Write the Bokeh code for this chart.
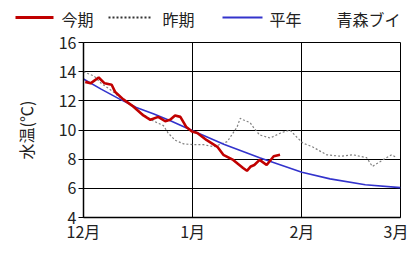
from bokeh.plotting import figure
from bokeh.models import FixedTicker, Range1d
from bokeh.core.properties import value
from bokeh.embed import file_html
from bokeh.resources import INLINE

# x = days since 1 Dec
month_ticks = [0, 31, 62, 90]
month_labels = ["12月", "1月", "2月", "3月"]
y_ticks = [4, 6, 8, 10, 12, 14, 16]

cur_days = [0.5, 2, 4.3, 6, 8, 9, 11.3, 14.2, 17, 19, 21.2, 23.2, 24.6, 26, 27.5, 29.2, 30.8, 32.3,
            35, 38, 39.7, 42.5, 45.3, 46.4, 47.5, 48.5, 50, 52, 54, 55.8]
cur_temp = [13.3, 13.2, 13.6, 13.2, 13.1, 12.6, 12.1, 11.6, 11.0, 10.7, 10.9, 10.6, 10.7, 11.0, 10.9, 10.2, 9.9, 9.8,
            9.3, 8.85, 8.3, 7.95, 7.4, 7.2, 7.5, 7.6, 7.95, 7.6, 8.2, 8.3]

prev_days = [0, 3, 5, 8, 10, 13, 15, 18, 20, 22.7, 24, 26, 28.4, 31, 34, 37, 40.8, 43.6, 44.5, 45.3, 47.3,
             48.5, 50, 53, 56, 58.6, 60.6, 62.3, 65, 69, 73, 76.5, 80.4, 82, 85, 87.5, 89]
prev_temp = [14.0, 13.7, 13.2, 12.7, 12.3, 11.8, 11.4, 10.9, 10.6, 10.3, 9.8, 9.3, 9.05, 9.0, 9.0, 8.85, 9.2, 10.2, 10.8, 10.7, 10.5,
             10.1, 9.66, 9.45, 9.8, 10.0, 9.5, 9.1, 8.85, 8.3, 8.2, 8.3, 8.1, 7.5, 7.95, 8.3, 8.1]

norm_days = [0, 5, 10, 15, 20, 25, 31, 40, 50, 62, 70, 80, 90]
norm_temp = [13.5, 12.8, 12.15, 11.55, 11.1, 10.6, 9.95, 9.0, 8.1, 7.1, 6.65, 6.25, 6.05]

legend_labels = ["今期", "昨期", "平年", "青森ブイ"]

FONT = "Noto Sans CJK JP"
TXT = "#222222"
RED, GRAY, BLUE = "#c00000", "#808080", "#3333cc"

# ---------- legend strip (screen-like coordinates) ----------
leg = figure(width=408, height=28, output_backend="svg", toolbar_location=None,
             x_range=Range1d(0, 408), y_range=Range1d(28, 0), min_border=0,
             x_axis_location=None, y_axis_location=None)
leg.grid.visible = False
leg.outline_line_color = None
leg.background_fill_color = "white"
leg.border_fill_color = "white"
ly = 17
leg.segment(x0=[15], y0=[ly], x1=[53], y1=[ly], line_color=RED, line_width=3)
leg.segment(x0=[108], y0=[ly], x1=[152], y1=[ly], line_color="#333333", line_width=2, line_dash="2 2")
leg.segment(x0=[222], y0=[ly], x1=[262], y1=[ly], line_color=BLUE, line_width=2)
leg.text(x=[61, 162, 269, 336], y=[ly + 1] * 4, text=legend_labels,
         text_font=value(FONT), text_font_size="16px", text_color=TXT,
         text_baseline="middle", text_align="left")

# ---------- main chart ----------
p = figure(width=408, height=217, output_backend="svg", toolbar_location=None,
           x_range=(0, 90), y_range=(4, 16),
           min_border_left=83, min_border_right=8, min_border_top=14, min_border_bottom=27)
p.background_fill_color = "white"
p.border_fill_color = "white"
p.outline_line_color = "black"
p.outline_line_width = 1

p.xaxis.ticker = FixedTicker(ticks=month_ticks)
p.xaxis.major_label_overrides = {t: l for t, l in zip(month_ticks, month_labels)}
p.yaxis.ticker = FixedTicker(ticks=y_ticks)
p.xgrid.ticker = FixedTicker(ticks=month_ticks)
p.ygrid.ticker = FixedTicker(ticks=y_ticks)
for g in (p.xgrid, p.ygrid):
    g.grid_line_color = "black"
    g.grid_line_width = 1
    g.grid_line_alpha = 1

for ax in (p.xaxis, p.yaxis):
    ax.axis_line_color = "black"
    ax.axis_line_width = 1.5
    ax.major_label_text_font = FONT
    ax.major_label_text_font_size = "16px"
    ax.major_label_text_color = TXT
    ax.minor_tick_line_color = None
    ax.major_tick_in = 0
p.xaxis.major_tick_out = 0
p.xaxis.major_label_standoff = 1
p.yaxis.major_tick_out = 5
p.yaxis.major_label_standoff = 2
p.yaxis.axis_label = "水温(℃)"
p.yaxis.axis_label_text_font = FONT
p.yaxis.axis_label_text_font_size = "16px"
p.yaxis.axis_label_text_font_style = "normal"
p.yaxis.axis_label_text_color = TXT
p.yaxis.axis_label_standoff = 18

p.line(prev_days, prev_temp, line_color=GRAY, line_width=1.2, line_dash="2 2")
p.line(norm_days, norm_temp, line_color=BLUE, line_width=1.6)
p.line(cur_days, cur_temp, line_color=RED, line_width=2.6)

open("out.html", "w").write(file_html((leg, p), INLINE))
